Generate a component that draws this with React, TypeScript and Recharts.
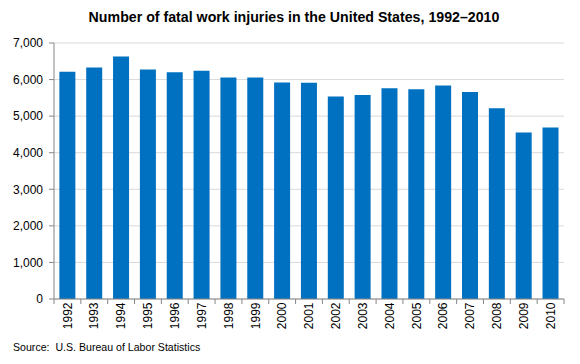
import { BarChart, Bar, XAxis, YAxis, CartesianGrid } from 'recharts';

const years = ['1992', '1993', '1994', '1995', '1996', '1997', '1998', '1999', '2000', '2001', '2002', '2003', '2004', '2005', '2006', '2007', '2008', '2009', '2010'];
const fatalities = [6217, 6331, 6632, 6275, 6202, 6238, 6055, 6054, 5920, 5915, 5534, 5575, 5764, 5734, 5840, 5657, 5214, 4551, 4690];
const yTicks = [0, 1000, 2000, 3000, 4000, 5000, 6000, 7000];

const data = years.map((year, i) => ({ year, value: fatalities[i] }));

const FONT = '"Liberation Sans", Arial, sans-serif';
const AXIS = '#868686';

// plot spans 54..564 px, so each year gets this much room
const PLOT_LEFT = 54;
const PLOT_RIGHT = 16;
const WIDTH = 580;
const band = (WIDTH - PLOT_LEFT - PLOT_RIGHT) / years.length;

function YearTick(props: any) {
  const { x, y, payload, index } = props;
  const axisY = y - 5;
  return (
    <g>
      <line x1={x - band / 2} x2={x - band / 2} y1={axisY} y2={axisY + 5} stroke={AXIS} />
      {index === years.length - 1 && (
        <line x1={x + band / 2} x2={x + band / 2} y1={axisY} y2={axisY + 5} stroke={AXIS} />
      )}
      <text
        x={x}
        y={axisY + 3.5}
        transform={`rotate(-90, ${x}, ${axisY + 3.5})`}
        textAnchor="end"
        dy="0.35em"
        fontSize={12}
        fontFamily={FONT}
        fill="#000"
      >
        {payload.value}
      </text>
    </g>
  );
}

export default function App() {
  return (
    <div style={{ position: 'absolute', left: 0, top: 0, width: 580, height: 364, background: '#fff' }}>
      <div
        style={{
          position: 'absolute',
          top: 9,
          left: 4,
          width: 580,
          textAlign: 'center',
          fontFamily: FONT,
          fontWeight: 'bold',
          fontSize: 14.2,
          color: '#000',
        }}
      >
        Number of fatal work injuries in the United States, 1992–2010
      </div>
      <BarChart
        width={580}
        height={364}
        data={data}
        margin={{ top: 43, right: PLOT_RIGHT, left: 0, bottom: 29 }}
        barCategoryGap="20%"
      >
        <CartesianGrid vertical={false} stroke="#d9d9d9" />
        <XAxis
          dataKey="year"
          interval={0}
          height={36}
          tickSize={5}
          tickMargin={0}
          tickLine={false}
          axisLine={{ stroke: AXIS }}
          tick={<YearTick />}
        />
        <YAxis
          width={PLOT_LEFT}
          domain={[0, 7000]}
          ticks={yTicks}
          interval={0}
          tickSize={5}
          tickMargin={6}
          axisLine={{ stroke: AXIS }}
          tickLine={{ stroke: AXIS }}
          tickFormatter={(v: number) => v.toLocaleString('en-US')}
          tick={{ fontSize: 12, fontFamily: FONT, fill: '#000' }}
        />
        <Bar dataKey="value" fill="#0070C0" isAnimationActive={false} />
      </BarChart>
      <div
        style={{
          position: 'absolute',
          left: 13,
          top: 341,
          fontFamily: FONT,
          fontSize: 10.6,
          color: '#000',
          whiteSpace: 'pre',
        }}
      >
        {'Source:  U.S. Bureau of Labor Statistics'}
      </div>
    </div>
  );
}
